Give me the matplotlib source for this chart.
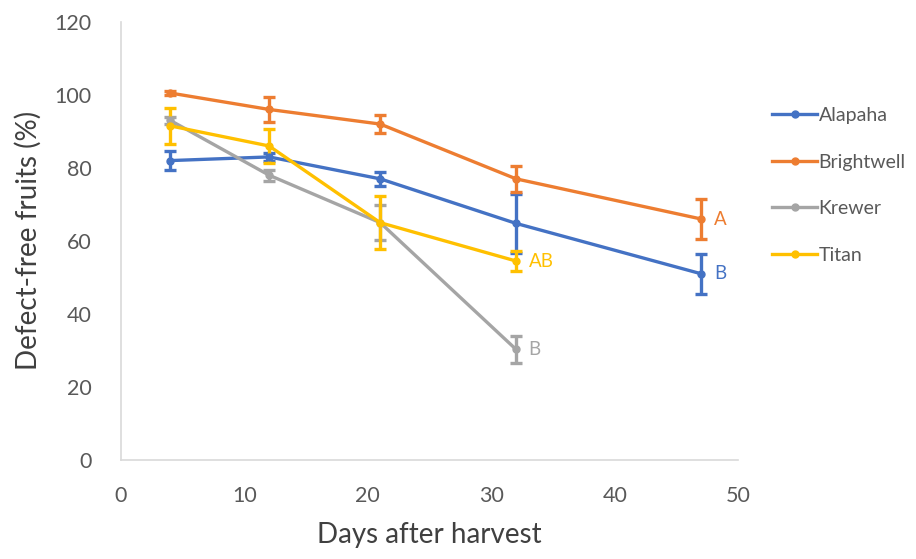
import matplotlib
matplotlib.use("Agg")
import matplotlib.pyplot as plt
from matplotlib.lines import Line2D

plt.rcParams['font.family'] = ['Lato', 'DejaVu Sans']

days = [4, 12, 21, 32, 47]

cultivars = ["Alapaha", "Brightwell", "Krewer", "Titan"]
colors = ["#4472C4", "#ED7D31", "#A5A5A5", "#FFC000"]

alapaha = [82.0, 83.0, 77.0, 64.8, 51.0]
alapaha_err = [2.5, 1.0, 2.0, 8.0, 5.5]

brightwell = [100.5, 96.0, 92.0, 77.0, 66.0]
brightwell_err = [0.5, 3.4, 2.5, 3.5, 5.6]

krewer_days = [4, 12, 21, 32]
krewer = [93.0, 78.0, 65.0, 30.3]
krewer_err = [1.0, 1.5, 4.8, 3.7]

titan_days = [4, 12, 21, 32]
titan = [91.5, 86.0, 65.0, 54.5]
titan_err = [5.0, 4.7, 7.3, 2.8]

letters = ["B", "A", "B", "AB"]

series = [
    (days, alapaha, alapaha_err),
    (days, brightwell, brightwell_err),
    (krewer_days, krewer, krewer_err),
    (titan_days, titan, titan_err),
]

fig = plt.figure(figsize=(9.16, 5.59), dpi=100)
ax = fig.add_axes([0.132, 0.177, 0.674, 0.784])

for (x, y, e), c, lab, letter in zip(series, colors, cultivars, letters):
    ax.errorbar(x, y, yerr=e, color=c, lw=2.4, marker='o', markersize=5,
                capsize=4.5, capthick=2.4, elinewidth=2.4, label=lab, zorder=3)
    ax.annotate(letter, (x[-1], y[-1]), xytext=(9, 0), textcoords='offset points',
                color=c, fontsize=13.5, va='center', ha='left')

ax.set_xlim(0, 50)
ax.set_ylim(0, 120)
ax.set_xticks(range(0, 51, 10))
ax.set_yticks(range(0, 121, 20))
for s in ['top', 'right']:
    ax.spines[s].set_visible(False)
for s in ['left', 'bottom']:
    ax.spines[s].set_color('#D9D9D9')
    ax.spines[s].set_linewidth(1.2)
ax.tick_params(length=0, labelsize=15.5, labelcolor='#595959')
ax.tick_params(axis='x', pad=19)
ax.tick_params(axis='y', pad=21)

ax.set_xlabel("Days after harvest", fontsize=20, color='#404040', labelpad=11)
ax.set_ylabel("Defect-free fruits (%)", fontsize=20, color='#404040', labelpad=9)

handles = [Line2D([0], [0], color=c, lw=2.4, marker='o', markersize=5) for c in colors]
fig.legend(handles, cultivars, loc='upper left', bbox_to_anchor=(0.843, 0.809),
           frameon=False, fontsize=14, labelcolor='#595959', handlelength=2.3,
           handletextpad=0.08, labelspacing=1.53, borderpad=0, borderaxespad=0)

fig.savefig("out.png", dpi=100)
